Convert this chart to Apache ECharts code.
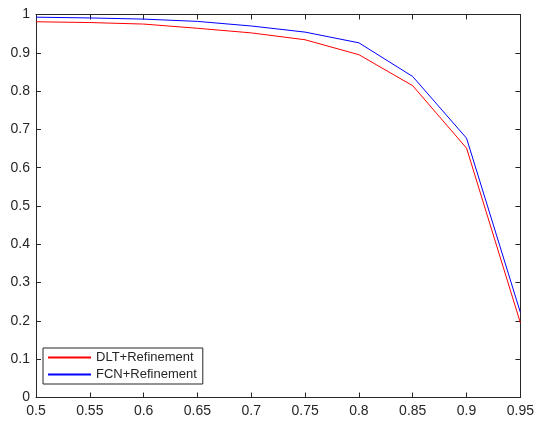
<!DOCTYPE html>
<html lang="en">
<head>
    <meta charset="UTF-8">
    <title>refinement</title>
    <script src="https://cdn.jsdelivr.net/npm/echarts@6/dist/echarts.min.js"></script>
    <style>
        body { margin: 0; background: #fff; }
    </style>
</head>
<body>
<div id="main" style="width:537px; height:422px;"></div>
<script>
    // data
    var thresholds = [0.5, 0.55, 0.6, 0.65, 0.7, 0.75, 0.8, 0.85, 0.9, 0.95];
    var dltRefine = [0.981, 0.979, 0.975, 0.964, 0.952, 0.934, 0.895, 0.814, 0.651, 0.195];
    var fcnRefine = [0.993, 0.991, 0.988, 0.982, 0.970, 0.954, 0.926, 0.838, 0.677, 0.222];
    var seriesNames = ['DLT+Refinement', 'FCN+Refinement'];
    var seriesColors = ['#ff0000', '#0000ff'];

    var axisColor = '#262626';
    var font = 'Liberation Sans, Arial, sans-serif';

    function pairs(xs, ys) {
        var out = [];
        for (var i = 0; i < xs.length; i++) out.push([xs[i], ys[i]]);
        return out;
    }
    function fmt(v) {
        return String(Math.round(v * 100) / 100);
    }

    var myChart = echarts.init(document.getElementById('main'));

    var xBase = {
        type: 'value', min: 0.5, max: 0.95, interval: 0.05,
        axisLine: { show: true, onZero: false, lineStyle: { color: axisColor, width: 1 } },
        axisTick: { show: true, inside: true, length: 5, lineStyle: { color: axisColor } },
        splitLine: { show: false }
    };
    var yBase = {
        type: 'value', min: 0, max: 1, interval: 0.1,
        axisLine: { show: true, onZero: false, lineStyle: { color: axisColor, width: 1 } },
        axisTick: { show: true, inside: true, length: 5, lineStyle: { color: axisColor } },
        splitLine: { show: false }
    };

    // line icon for the legend (43 x 2)
    var legendData = seriesNames.map(function (n, i) {
        return {
            name: n,
            icon: 'path://M0,0 L43,0 L43,2 L0,2 Z',
            itemStyle: { color: seriesColors[i], borderWidth: 0 }
        };
    });

    myChart.setOption({
        animation: false,
        backgroundColor: '#fff',
        grid: { left: 36, right: 14, top: 14.5, bottom: 24.5 },
        legend: {
            data: legendData,
            orient: 'vertical',
            left: 43, top: 348,
            itemWidth: 43, itemHeight: 2,
            itemGap: 4,
            padding: [3, 6, 3, 5],
            backgroundColor: '#fff',
            borderColor: axisColor, borderWidth: 1, borderRadius: 0,
            textStyle: { fontFamily: font, fontSize: 13, color: '#262626' }
        },
        xAxis: [
            Object.assign({}, xBase, {
                position: 'bottom',
                axisLabel: { formatter: fmt, fontFamily: font, fontSize: 14, color: '#262626', margin: 7 }
            }),
            Object.assign({}, xBase, { position: 'top', axisLabel: { show: false } })
        ],
        yAxis: [
            Object.assign({}, yBase, {
                position: 'left',
                axisLabel: { formatter: fmt, fontFamily: font, fontSize: 14, color: '#262626', margin: 6 }
            }),
            Object.assign({}, yBase, { position: 'right', axisLabel: { show: false } })
        ],
        series: [{
            name: seriesNames[0],
            type: 'line',
            data: pairs(thresholds, dltRefine),
            showSymbol: false,
            itemStyle: { color: seriesColors[0] },
            lineStyle: { color: seriesColors[0], width: 1 }
        }, {
            name: seriesNames[1],
            type: 'line',
            data: pairs(thresholds, fcnRefine),
            showSymbol: false,
            itemStyle: { color: seriesColors[1] },
            lineStyle: { color: seriesColors[1], width: 1 }
        }]
    });
</script>
</body>
</html>
